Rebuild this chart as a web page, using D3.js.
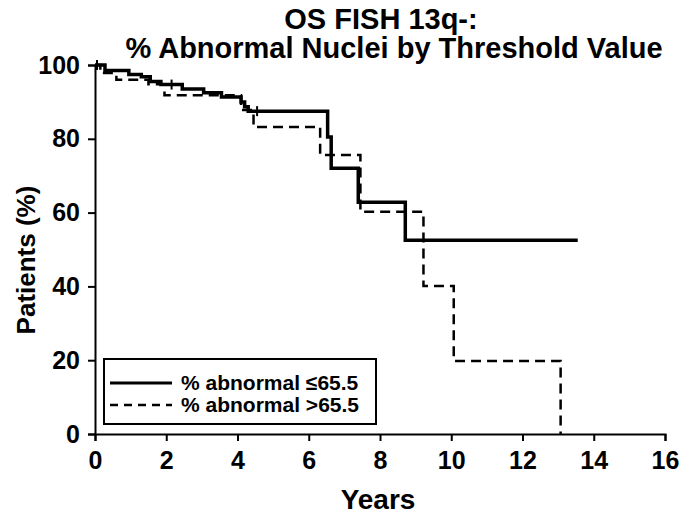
<!DOCTYPE html>
<html><head><meta charset="utf-8">
<script src="https://cdn.jsdelivr.net/npm/d3@7/dist/d3.min.js"></script>
<style>body{margin:0;background:#fff}svg{display:block}text{font-family:"Liberation Sans",Arial,sans-serif;font-weight:bold;fill:#000}</style>
</head><body><svg id="c" width="679" height="518"></svg>
<script>
const titleLines = ["OS FISH 13q-:", "% Abnormal Nuclei by Threshold Value"];
const xTicks = [0,2,4,6,8,10,12,14,16];
const yTicks = [0,20,40,60,80,100];
const seriesNames = ["% abnormal \u226465.5", "% abnormal >65.5"];
// solid group (<=65.5): step times and survival
const lowTimes = [0,0.28,0.95,1.3,1.55,1.85,2.45,3.05,3.55,4.1,4.2,4.3,6.53,6.63,7.39,8.71,13.55];
const lowSurv  = [100,98.5,97.4,96.8,95.5,94.7,93.5,92.5,91.3,90,88.7,87.5,80.5,72,62.8,52.5,52.5];
const lowCensor = [0,2.15,4.55];
// dashed group (>65.5)
const highTimes = [0,0.15,0.6,1.5,1.95,4.1,4.45,6.32,7.45,9.22,10.07,13.07];
const highSurv  = [100,97.8,96,94.8,91.8,87.8,83.2,75.6,60.2,40.1,19.8,0];

const svg = d3.select("#c");
const x = d3.scaleLinear().domain([0,16]).range([95,665]);
const y = d3.scaleLinear().domain([0,100]).range([434,65]);

svg.append("text").attr("x",381).attr("y",29).attr("text-anchor","middle").attr("font-size",29).text(titleLines[0]);
svg.append("text").attr("x",394).attr("y",58).attr("text-anchor","middle").attr("font-size",29).text(titleLines[1]);

const xa = svg.append("g").attr("transform","translate(0,434)").call(d3.axisBottom(x).tickValues(xTicks).tickSize(7).tickPadding(10).tickFormat(d3.format("d")));
const ya = svg.append("g").attr("transform","translate(95,0)").call(d3.axisLeft(y).tickValues(yTicks).tickSize(7).tickPadding(8).tickFormat(d3.format("d")));
[xa,ya].forEach(a=>{
  a.select(".domain").attr("stroke","#000").attr("stroke-width",2);
  a.selectAll(".tick line").attr("stroke","#000").attr("stroke-width",2);
  a.selectAll(".tick text").attr("font-size",25).attr("font-family","Liberation Sans, Arial, sans-serif").attr("font-weight","bold").attr("fill","#000");
});

svg.append("text").attr("x",378).attr("y",509).attr("text-anchor","middle").attr("font-size",28).text("Years");
svg.append("text").attr("transform","translate(35,260) rotate(-90)").attr("text-anchor","middle").attr("font-size",26).text("Patients (%)");

const line = d3.line().curve(d3.curveStepAfter).x(d=>x(d[0])).y(d=>y(d[1]));
svg.append("path").datum(lowTimes.map((t,i)=>[t,lowSurv[i]])).attr("d",line)
  .attr("fill","none").attr("stroke","#000").attr("stroke-width",3.5);
svg.append("path").datum(highTimes.map((t,i)=>[t,highSurv[i]])).attr("d",line)
  .attr("fill","none").attr("stroke","#000").attr("stroke-width",2.5).attr("stroke-dasharray","10,6");

// censor ticks
const survAt = t => { let s=lowSurv[0]; lowTimes.forEach((tt,i)=>{ if(tt<=t) s=lowSurv[i]; }); return s; };
svg.selectAll(".cens").data(lowCensor).enter().append("line")
  .attr("x1",d=>x(d)+(d===0?2:0)).attr("x2",d=>x(d)+(d===0?2:0))
  .attr("y1",d=>y(survAt(d))-5).attr("y2",d=>y(survAt(d))+5)
  .attr("stroke","#000").attr("stroke-width",2);

// legend
const lg = svg.append("g");
lg.append("rect").attr("x",104).attr("y",359).attr("width",272).attr("height",65).attr("fill","#fff").attr("stroke","#000").attr("stroke-width",2);
lg.append("line").attr("x1",110).attr("x2",172).attr("y1",383).attr("y2",383).attr("stroke","#000").attr("stroke-width",3);
lg.append("line").attr("x1",110).attr("x2",172).attr("y1",405).attr("y2",405).attr("stroke","#000").attr("stroke-width",2.5).attr("stroke-dasharray","8,6");
lg.append("text").attr("x",181).attr("y",390).attr("font-size",21).text(seriesNames[0]);
lg.append("text").attr("x",181).attr("y",412).attr("font-size",21).text(seriesNames[1]);
</script></body></html>
